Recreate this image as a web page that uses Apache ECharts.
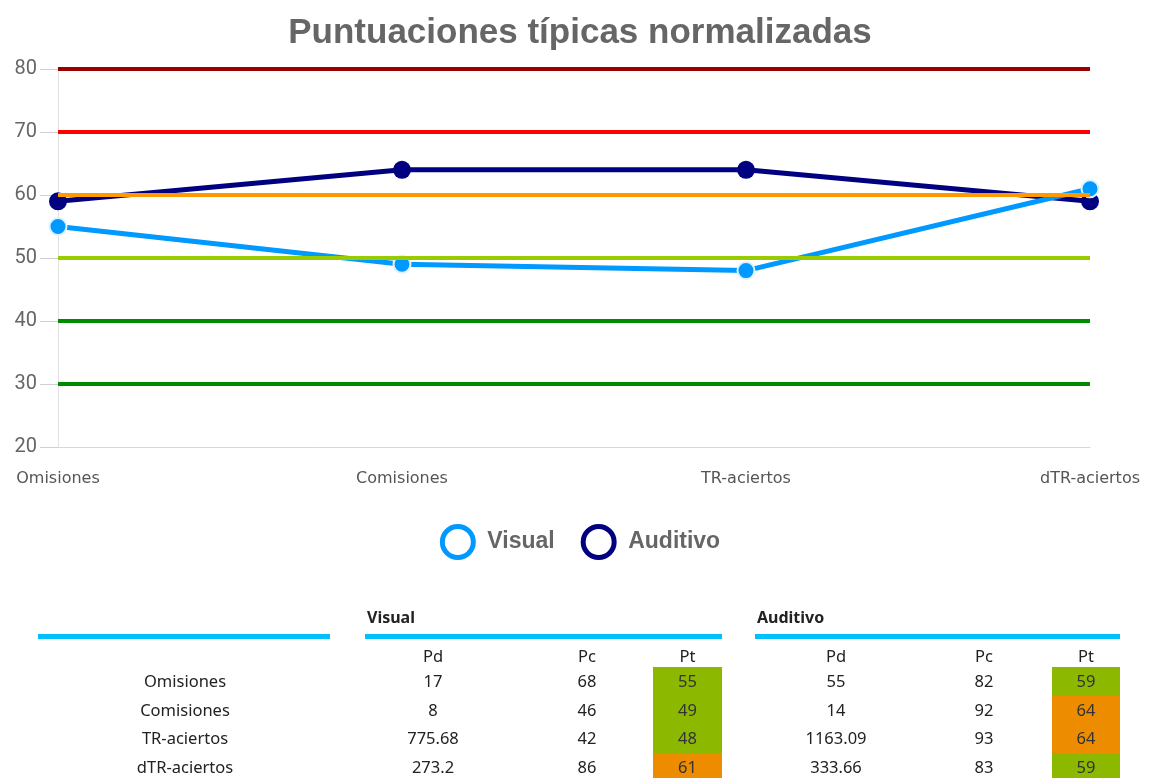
<!DOCTYPE html>
<html>
<head>
<meta charset="utf-8">
<script src="https://cdn.jsdelivr.net/npm/echarts@6/dist/echarts.min.js"></script>
<style>
  html, body { margin: 0; padding: 0; background: #fff; }
  #page { position: relative; width: 1160px; height: 778px; overflow: hidden; }
  #chart { position: absolute; left: 0; top: 0; width: 1160px; height: 590px; }
  #table { position: absolute; left: 0; top: 0; width: 1160px; height: 778px; font-family: 'Noto Sans', sans-serif; font-size: 16.5px; color: #222; }
  .cell { position: absolute; text-align: center; line-height: 28px; height: 28px; }
  .rule { position: absolute; height: 5px; background: #00bfff; }
  .grp { position: absolute; font-weight: bold; font-size: 16px; }
</style>
</head>
<body>
<div id="page">
  <div id="chart"></div>
  <div id="table"></div>
</div>
<script>
var categories = ['Omisiones', 'Comisiones', 'TR-aciertos', 'dTR-aciertos'];
var visualPt = [55, 49, 48, 61];
var auditivoPt = [59, 64, 64, 59];
var thresholds = [80, 70, 60, 50, 40, 30];
var thresholdColors = ['#990000', '#ff0000', '#ff9900', '#99cc00', '#008a00', '#008a00'];

var visualPd = ['17', '8', '775.68', '273.2'];
var visualPc = ['68', '46', '42', '86'];
var auditivoPd = ['55', '14', '1163.09', '333.66'];
var auditivoPc = ['82', '92', '93', '83'];
var subHeaders = ['Pd', 'Pc', 'Pt'];

(function() {
  var chart = echarts.init(document.getElementById('chart'), null, { renderer: 'canvas' });
  var axisFont = 'DejaVu Sans, sans-serif';

  chart.setOption({
    animation: false,
    title: {
      text: 'Puntuaciones típicas normalizadas',
      left: 'center',
      top: 11,
      textStyle: { fontFamily: 'Liberation Sans, Arial, sans-serif', fontSize: 35, fontWeight: 'bold', color: '#666' }
    },
    legend: {
      data: [
        { name: 'Visual', icon: 'circle', itemStyle: { color: '#fff', borderColor: '#0099ff', borderWidth: 5 } },
        { name: 'Auditivo', icon: 'circle', itemStyle: { color: '#fff', borderColor: '#000080', borderWidth: 5 } }
      ],
      top: 519,
      left: 'center',
      itemWidth: 31,
      itemHeight: 31,
      itemGap: 26,
      textStyle: { fontFamily: 'Liberation Sans, Arial, sans-serif', fontSize: 23, fontWeight: 'bold', color: '#666', padding: [0, 0, 0, 9] }
    },
    grid: { left: 58, right: 70, top: 69, bottom: 143 },
    xAxis: {
      type: 'category',
      data: categories,
      boundaryGap: false,
      axisLine: { lineStyle: { color: '#d8d8d8', width: 1 } },
      axisTick: { show: false },
      axisLabel: { color: '#555', fontFamily: axisFont, fontSize: 16, margin: 24 }
    },
    yAxis: {
      type: 'value',
      min: 20,
      max: 80,
      interval: 10,
      axisLine: { show: true, lineStyle: { color: '#e2e2e2' } },
      axisTick: { show: true, length: 18, lineStyle: { color: '#cfcfcf' } },
      splitLine: { show: false },
      axisLabel: { color: '#666', fontFamily: 'Roboto, sans-serif', fontSize: 20, margin: 21 }
    },
    series: [
      {
        name: 'thresholds',
        type: 'line',
        data: [],
        silent: true,
        z: 1,
        markLine: {
          silent: true,
          symbol: 'none',
          label: { show: false },
          animation: false,
          data: thresholds.map(function(v, i) {
            return { yAxis: v, lineStyle: { color: thresholdColors[i], width: 4, type: 'solid' } };
          })
        }
      },
      {
        name: 'Visual',
        type: 'line',
        data: visualPt,
        z: 3,
        symbol: 'circle',
        symbolSize: 17,
        lineStyle: { color: '#0099ff', width: 5 },
        itemStyle: { color: '#0099ff', borderColor: '#dff0ff', borderWidth: 2 }
      },
      {
        name: 'Auditivo',
        type: 'line',
        data: auditivoPt,
        z: 2,
        symbol: 'circle',
        symbolSize: 18,
        lineStyle: { color: '#000080', width: 5 },
        itemStyle: { color: '#000080' }
      }
    ]
  });
  window.addEventListener('resize', function() { chart.resize(); });

  // --- table under the chart ---
  var table = document.getElementById('table');
  function add(cls, css, text) {
    var d = document.createElement('div');
    d.className = cls;
    for (var k in css) d.style[k] = css[k];
    if (text !== undefined) d.textContent = text;
    table.appendChild(d);
    return d;
  }

  var groups = [
    { left: 365, right: 722, name: 'Visual', pd: visualPd, pc: visualPc, pt: visualPt, cx: [433, 587], ptLeft: 653 },
    { left: 755, right: 1120, name: 'Auditivo', pd: auditivoPd, pc: auditivoPc, pt: auditivoPt, cx: [836, 984], ptLeft: 1052 }
  ];
  var rowTop = 667, rowH = 28.7, headTop = 642;

  add('rule', { left: '38px', width: '292px', top: '634px' });
  groups.forEach(function(g) {
    add('grp', { left: (g.left + 2) + 'px', top: '606px' }, g.name);
    add('rule', { left: g.left + 'px', width: (g.right - g.left) + 'px', top: '634px' });
    var ptW = g.right - g.ptLeft;
    var centers = [g.cx[0], g.cx[1], g.ptLeft + ptW / 2];
    subHeaders.forEach(function(h, j) {
      add('cell', { left: (centers[j] - 60) + 'px', width: '120px', top: headTop + 'px', height: '25px', lineHeight: '28px' }, h);
    });
    categories.forEach(function(c, i) {
      var top = rowTop + i * rowH;
      add('cell', { left: (g.cx[0] - 70) + 'px', width: '140px', top: top + 'px' }, g.pd[i]);
      add('cell', { left: (g.cx[1] - 60) + 'px', width: '120px', top: top + 'px' }, g.pc[i]);
      add('cell', {
        left: g.ptLeft + 'px', width: ptW + 'px', top: top + 'px', height: (rowH + 0.5) + 'px',
        background: g.pt[i] >= 60 ? '#ee8c00' : '#8cb800', color: '#333'
      }, String(g.pt[i]));
    });
  });
  categories.forEach(function(c, i) {
    add('cell', { left: '85px', width: '200px', top: (rowTop + i * rowH) + 'px' }, c);
  });
})();
</script>
</body>
</html>
